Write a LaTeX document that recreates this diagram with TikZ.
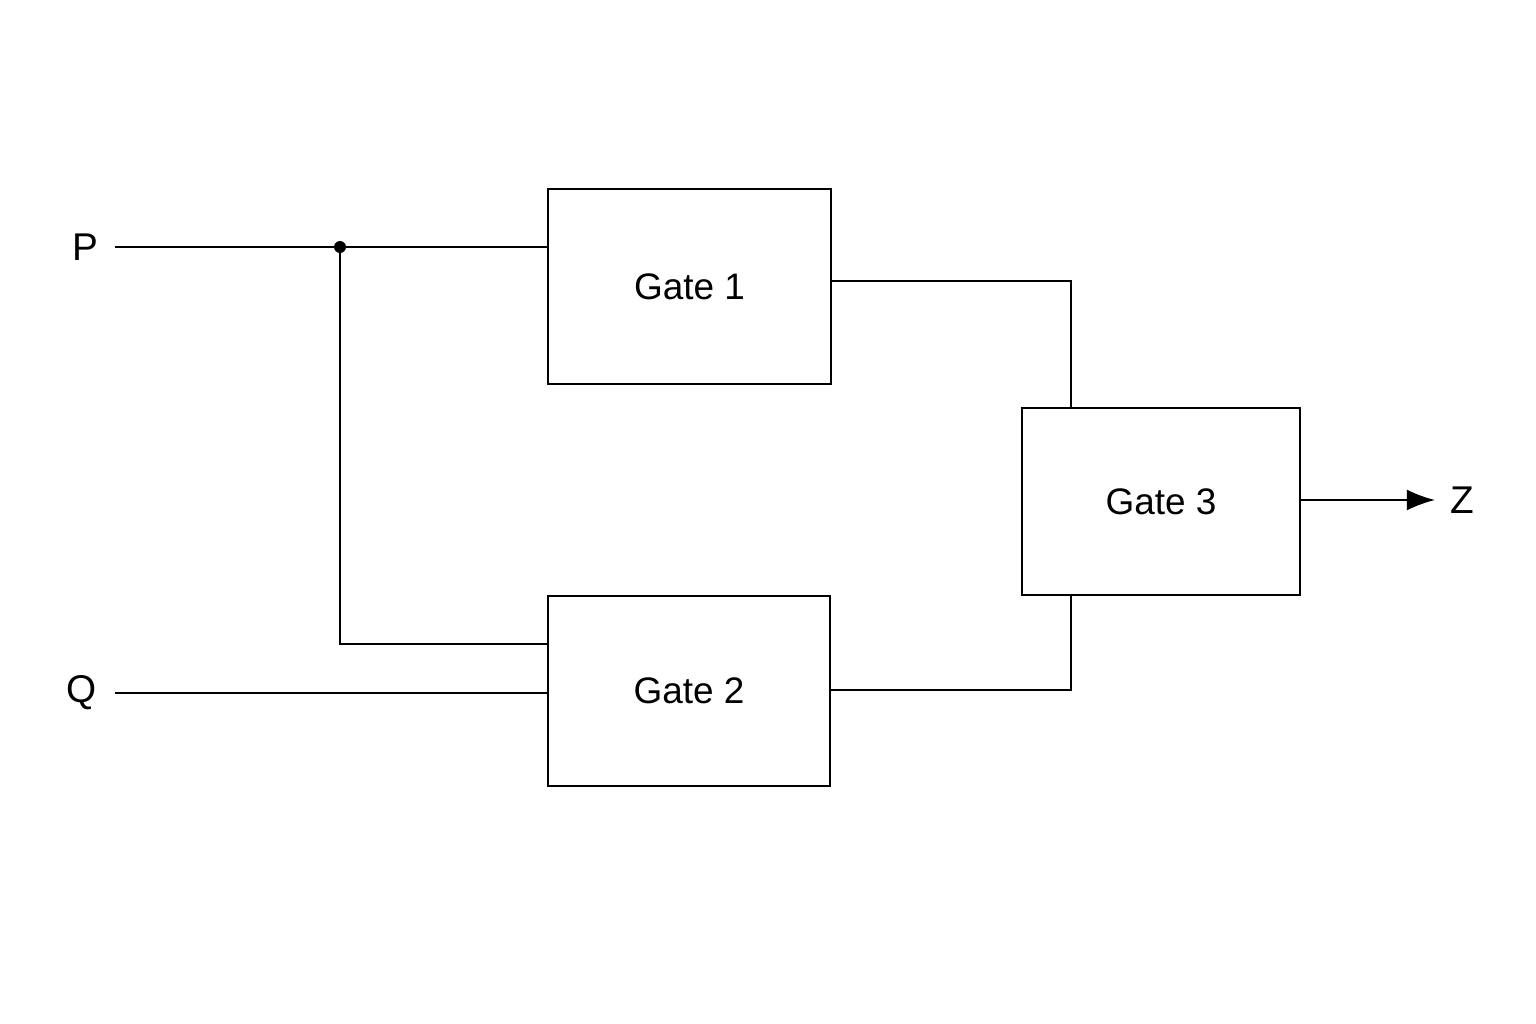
\documentclass[tikz,border=0pt]{standalone}
\usepackage{fontspec}
\setmainfont{Liberation Sans}
\usetikzlibrary{arrows.meta,positioning}

\begin{document}
\begin{tikzpicture}
[
	        x = 0.01cm, y = -0.01cm,
	       line width = 0.6pt,
	  gate/.style = { draw=black, rectangle, inner sep=0pt, font=\fontsize{10.5}{12}\selectfont },
	signal/.style = { font=\fontsize{11}{13}\selectfont }
]
	\useasboundingbox (0,0) rectangle (1536,1024);

	% gates
	\node (G1) at (689.5,286.5) [gate, minimum width=283\pgflinewidth*0+2.83cm, minimum height=1.95cm] {Gate 1};
	\node (G2) at (689,691)     [gate, minimum width=2.82cm, minimum height=1.90cm] {Gate 2};
	\node (G3) at (1161,501.5)  [gate, minimum width=2.78cm, minimum height=1.87cm] {Gate 3};

	% inputs and output
	\node (P) at (85,247)   [signal] {P};
	\node (Q) at (82,693)   [signal] {Q};
	\node (Z) at (1462,500) [signal] {Z};

	% wire points
	\coordinate (pin)  at (115,247);
	\coordinate (qin)  at (115,693);
	\coordinate (J)    at (340,247);
	\coordinate (Jd)   at (340,644);
	\coordinate (zout) at (1435,500);

	% wires
	\draw (pin) -- (G1.west |- pin);
	\fill (J) circle (6);
	\draw (J) -- (Jd) -- (G2.west |- Jd);
	\draw (qin) -- (G2.west |- qin);
	\draw (G1.east |- 0,281) -| (G3.north -| 1071,0);
	\draw (G2.east |- 0,690) -| (G3.south -| 1071,0);
	\draw [-{Latex[length=8pt,width=6pt]}] (G3.east |- zout) -- (zout);
\end{tikzpicture}
\end{document}
